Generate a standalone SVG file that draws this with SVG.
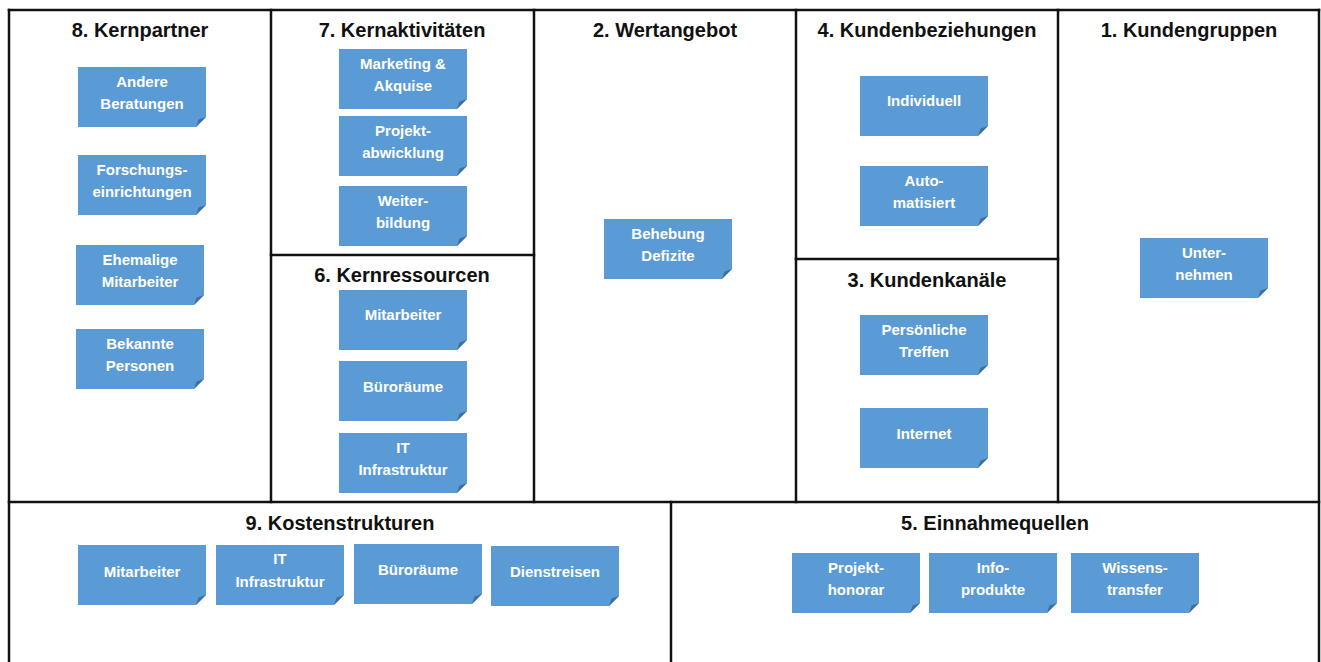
<svg xmlns="http://www.w3.org/2000/svg" xmlns:xlink="http://www.w3.org/1999/xlink" width="1321" height="662" viewBox="0 0 1321 662">
<style>
.grid line{stroke:#111;stroke-width:2.5;stroke-linecap:square}
.title{font-family:"Liberation Sans",Arial,sans-serif;font-weight:bold;font-size:20px;fill:#111;text-anchor:middle}
.note{fill:#5B9BD5}
.fold{fill:#3F6F9E}
.nt{font-family:"Liberation Sans",Arial,sans-serif;font-weight:bold;font-size:15px;fill:#fff;text-anchor:middle}
</style>
<defs>
<g id="noteShape">
<path class="note" d="M0 0H128V50L118 60H0Z"/>
<path class="fold" d="M128 50L118 60L120.5 52.5Z"/>
</g>
</defs>
<rect width="1321" height="662" fill="#fff"/>
<g id="connectors" class="grid">
<line x1="9" y1="10" x2="1319" y2="10"/>
<line x1="9" y1="10" x2="9" y2="662"/>
<line x1="1319" y1="10" x2="1319" y2="662"/>
<line x1="271" y1="10" x2="271" y2="502"/>
<line x1="534" y1="10" x2="534" y2="502"/>
<line x1="796" y1="10" x2="796" y2="502"/>
<line x1="1058" y1="10" x2="1058" y2="502"/>
<line x1="9" y1="502" x2="1319" y2="502"/>
<line x1="671" y1="502" x2="671" y2="662"/>
<line x1="271" y1="255" x2="534" y2="255"/>
<line x1="796" y1="259" x2="1058" y2="259"/>
</g>
<g id="titles">
<text class="title" x="140" y="37">8. Kernpartner</text>
<text class="title" x="402" y="37">7. Kernaktivitäten</text>
<text class="title" x="665" y="37">2. Wertangebot</text>
<text class="title" x="927" y="37">4. Kundenbeziehungen</text>
<text class="title" x="1189" y="37">1. Kundengruppen</text>
<text class="title" x="402" y="282">6. Kernressourcen</text>
<text class="title" x="927" y="287">3. Kundenkanäle</text>
<text class="title" x="340" y="530">9. Kostenstrukturen</text>
<text class="title" x="995" y="530">5. Einnahmequellen</text>
</g>
<g id="n-andere" transform="translate(78,67)"><use xlink:href="#noteShape"/><text class="nt" x="64" y="20">Andere</text><text class="nt" x="64" y="42">Beratungen</text></g>
<g id="n-forschung" transform="translate(78,155)"><use xlink:href="#noteShape"/><text class="nt" x="64" y="20">Forschungs-</text><text class="nt" x="64" y="42">einrichtungen</text></g>
<g id="n-ehemalige" transform="translate(76,245)"><use xlink:href="#noteShape"/><text class="nt" x="64" y="20">Ehemalige</text><text class="nt" x="64" y="42">Mitarbeiter</text></g>
<g id="n-bekannte" transform="translate(76,329)"><use xlink:href="#noteShape"/><text class="nt" x="64" y="20">Bekannte</text><text class="nt" x="64" y="42">Personen</text></g>
<g id="n-marketing" transform="translate(339,49)"><use xlink:href="#noteShape"/><text class="nt" x="64" y="20">Marketing &amp;</text><text class="nt" x="64" y="42">Akquise</text></g>
<g id="n-projekt" transform="translate(339,116)"><use xlink:href="#noteShape"/><text class="nt" x="64" y="20">Projekt-</text><text class="nt" x="64" y="42">abwicklung</text></g>
<g id="n-weiter" transform="translate(339,186)"><use xlink:href="#noteShape"/><text class="nt" x="64" y="20">Weiter-</text><text class="nt" x="64" y="42">bildung</text></g>
<g id="n-res-mitarbeiter" transform="translate(339,290)"><use xlink:href="#noteShape"/><text class="nt" x="64" y="30">Mitarbeiter</text></g>
<g id="n-res-buero" transform="translate(339,361)"><use xlink:href="#noteShape"/><text class="nt" x="64" y="31">Büroräume</text></g>
<g id="n-res-it" transform="translate(339,433)"><use xlink:href="#noteShape"/><text class="nt" x="64" y="20">IT</text><text class="nt" x="64" y="42">Infrastruktur</text></g>
<g id="n-behebung" transform="translate(604,219)"><use xlink:href="#noteShape"/><text class="nt" x="64" y="20">Behebung</text><text class="nt" x="64" y="42">Defizite</text></g>
<g id="n-individuell" transform="translate(860,76)"><use xlink:href="#noteShape"/><text class="nt" x="64" y="30">Individuell</text></g>
<g id="n-auto" transform="translate(860,166)"><use xlink:href="#noteShape"/><text class="nt" x="64" y="20">Auto-</text><text class="nt" x="64" y="42">matisiert</text></g>
<g id="n-persoenlich" transform="translate(860,315)"><use xlink:href="#noteShape"/><text class="nt" x="64" y="20">Persönliche</text><text class="nt" x="64" y="42">Treffen</text></g>
<g id="n-internet" transform="translate(860,408)"><use xlink:href="#noteShape"/><text class="nt" x="64" y="31">Internet</text></g>
<g id="n-unternehmen" transform="translate(1140,238)"><use xlink:href="#noteShape"/><text class="nt" x="64" y="20">Unter-</text><text class="nt" x="64" y="42">nehmen</text></g>
<g id="n-kost-mitarbeiter" transform="translate(78,545)"><use xlink:href="#noteShape"/><text class="nt" x="64" y="32">Mitarbeiter</text></g>
<g id="n-kost-it" transform="translate(216,545)"><use xlink:href="#noteShape"/><text class="nt" x="64" y="19">IT</text><text class="nt" x="64" y="42">Infrastruktur</text></g>
<g id="n-kost-buero" transform="translate(354,544)"><use xlink:href="#noteShape"/><text class="nt" x="64" y="31">Büroräume</text></g>
<g id="n-kost-dienst" transform="translate(491,546)"><use xlink:href="#noteShape"/><text class="nt" x="64" y="31">Dienstreisen</text></g>
<g id="n-honorar" transform="translate(792,553)"><use xlink:href="#noteShape"/><text class="nt" x="64" y="20">Projekt-</text><text class="nt" x="64" y="42">honorar</text></g>
<g id="n-info" transform="translate(929,553)"><use xlink:href="#noteShape"/><text class="nt" x="64" y="20">Info-</text><text class="nt" x="64" y="42">produkte</text></g>
<g id="n-wissen" transform="translate(1071,553)"><use xlink:href="#noteShape"/><text class="nt" x="64" y="20">Wissens-</text><text class="nt" x="64" y="42">transfer</text></g>
</svg>
